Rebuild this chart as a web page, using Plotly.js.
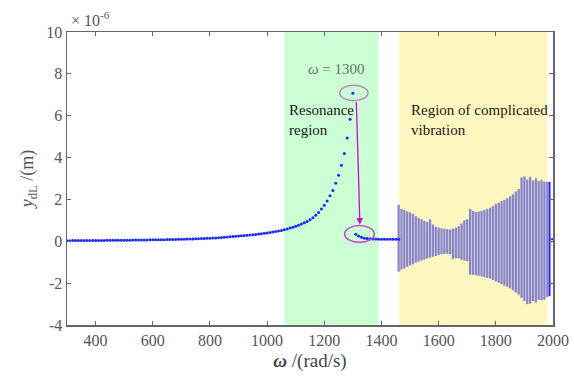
<!DOCTYPE html>
<html><head><meta charset="utf-8">
<script src="https://cdn.plot.ly/plotly-3.0.1.min.js"></script>
<style>html,body{margin:0;padding:0;background:#fff}#chart{width:574px;height:385px}</style>
</head><body><div id="chart"></div>
<script>
// Stable (pre-resonance + resonance) response, omega in rad/s, y in 1e-6 m
var omegaStable = [300,310,320,330,340,350,360,370,380,390,400,410,420,430,440,450,460,470,480,490,500,510,520,530,540,550,560,570,580,590,600,610,620,630,640,650,660,670,680,690,700,710,720,730,740,750,760,770,780,790,800,810,820,830,840,850,860,870,880,890,900,910,920,930,940,950,960,970,980,990,1000,1010,1020,1030,1040,1050,1060,1070,1080,1090,1100,1110,1120,1130,1140,1150,1160,1170,1180,1190,1200,1210,1220,1230,1240,1250,1260,1270,1280,1290,1300];
var yStable = [0.03,0.03,0.032,0.033,0.034,0.035,0.036,0.037,0.038,0.039,0.04,0.041,0.042,0.043,0.044,0.045,0.046,0.047,0.048,0.049,0.05,0.052,0.054,0.056,0.058,0.06,0.062,0.064,0.066,0.068,0.07,0.072,0.074,0.076,0.078,0.08,0.083,0.086,0.089,0.092,0.095,0.1,0.105,0.11,0.115,0.12,0.125,0.13,0.135,0.14,0.145,0.153,0.162,0.171,0.18,0.19,0.2,0.212,0.224,0.236,0.248,0.26,0.273,0.286,0.3,0.315,0.33,0.346,0.363,0.381,0.4,0.42,0.44,0.465,0.49,0.52,0.555,0.59,0.63,0.67,0.715,0.765,0.82,0.88,0.95,1.03,1.12,1.24,1.38,1.54,1.72,1.93,2.17,2.43,2.77,3.15,3.63,4.19,4.93,5.83,7.07];
// After the jump
var omegaAfter = [1310,1320,1330,1340,1350,1360,1370,1380,1390,1400,1410,1420,1430,1440,1450,1460];
var yAfter = [0.34,0.25,0.19,0.15,0.13,0.12,0.11,0.105,0.1,0.1,0.1,0.1,0.1,0.1,0.1,0.1];
// Region of complicated vibration: column envelopes
var omegaComplex = [1460,1470,1480,1490,1500,1510,1520,1530,1540,1550,1560,1570,1580,1590,1600,1610,1620,1630,1640,1650,1660,1670,1680,1690,1700,1710,1720,1730,1740,1750,1760,1770,1780,1790,1800,1810,1820,1830,1840,1850,1860,1870,1880,1890,1900,1910,1920,1930,1940,1950,1960,1970,1980];
var yUpper = [1.75,1.55,1.5,1.42,1.38,1.3,1.2,1.12,1.05,0.98,0.92,1.05,0.8,0.7,0.66,0.62,0.6,0.58,0.56,0.6,0.65,0.72,0.85,1.0,1.05,1.55,1.45,1.4,1.42,1.46,1.5,1.55,1.6,1.68,1.78,1.85,1.92,1.98,2.06,2.15,2.25,2.38,2.5,3.05,3.1,2.95,3.08,2.9,3.0,2.88,2.92,2.85,2.84];
var yLower = [-1.45,-1.35,-1.3,-1.22,-1.15,-1.1,-1.02,-0.97,-0.92,-0.88,-0.82,-0.78,-0.74,-0.7,-0.66,-0.62,-0.6,-0.6,-0.62,-0.85,-0.8,-0.82,-0.88,-0.92,-0.95,-1.6,-1.6,-1.62,-1.65,-1.68,-1.72,-1.75,-1.78,-1.85,-1.92,-1.98,-2.05,-2.12,-2.18,-2.25,-2.35,-2.45,-2.55,-2.7,-2.85,-3.0,-2.98,-2.85,-2.92,-2.8,-2.82,-2.78,-2.66];
// Blue end column and last point
var omegaEnd = [1988,1988];
var yEnd = [2.84,-2.62];
var omegaLast = [2000];
var yLast = [0.1];
// Tick labels
var xTicks = [400,600,800,1000,1200,1400,1600,1800,2000];
var yTicks = [-4,-2,0,2,4,6,8,10];
var yTickText = ['-4','-2','0','2','4','6','8','10'];

var cx = [], cy = [];
for (var i = 0; i < omegaComplex.length; i++) {
  cx.push(omegaComplex[i], omegaComplex[i], null);
  cy.push(yLower[i], yUpper[i], null);
}

var serif = '"Liberation Serif", "Times New Roman", serif';
var blue = 'rgb(25,40,255)';
var traces = [
  {x: cx, y: cy, mode: 'lines', line: {color: 'rgba(128,128,208,0.95)', width: 2.3}, hoverinfo: 'skip'},
  {x: omegaEnd, y: yEnd, mode: 'lines', line: {color: 'rgb(40,40,240)', width: 2}, hoverinfo: 'skip'},
  {x: omegaStable, y: yStable, mode: 'markers', marker: {color: blue, size: 3}},
  {x: omegaAfter, y: yAfter, mode: 'markers', marker: {color: blue, size: 3}},
  {x: omegaLast, y: yLast, mode: 'markers', marker: {color: blue, size: 3, symbol: 'line-ew-open', line:{color: blue, width: 2}}}
];

var layout = {
  width: 574, height: 385,
  margin: {l: 67, r: 21, t: 32, b: 60},
  paper_bgcolor: '#fff', plot_bgcolor: '#fff',
  showlegend: false,
  font: {family: serif, color: '#555', size: 16},
  xaxis: {
    range: [300, 2000], tickvals: xTicks,
    ticks: 'inside', ticklen: 4, tickcolor: '#666', showgrid: false, zeroline: false,
    showline: true, linecolor: '#666', linewidth: 1.5, mirror: 'ticks',
    tickfont: {family: serif, size: 16, color: '#555'},
    title: {text: '<b><i>ω</i></b> /(rad/s)', font: {family: serif, size: 19, color: '#444'}, standoff: 6}
  },
  yaxis: {
    range: [-4, 10], tickvals: yTicks, ticktext: yTickText,
    ticks: 'inside', ticklen: 4, tickcolor: '#666', showgrid: false, zeroline: false,
    showline: true, linecolor: '#666', linewidth: 1.5, mirror: 'ticks',
    tickfont: {family: serif, size: 16, color: '#555'},
    title: {text: '<i>y</i><sub>dL</sub> /(m)', font: {family: serif, size: 18, color: '#555'}, standoff: 8}
  },
  shapes: [
    {type: 'rect', xref: 'x', yref: 'paper', x0: 1060, x1: 1390, y0: 0, y1: 1, fillcolor: 'rgb(204,255,212)', line: {width: 0}, layer: 'below'},
    {type: 'rect', xref: 'x', yref: 'paper', x0: 1460, x1: 1980, y0: 0, y1: 1, fillcolor: 'rgb(255,246,192)', line: {width: 0}, layer: 'below'},
    {type: 'circle', xref: 'x', yref: 'y', x0: 1254, x1: 1353, y0: 6.72, y1: 7.45, line: {color: 'rgb(190,130,200)', width: 1.5}},
    {type: 'circle', xref: 'x', yref: 'y', x0: 1271, x1: 1375, y0: -0.05, y1: 0.75, line: {color: 'rgb(200,70,200)', width: 1.5}}
  ],
  annotations: [
    {xref: 'paper', yref: 'paper', x: 0.005, y: 1.005, xanchor: 'left', yanchor: 'bottom', showarrow: false,
     text: '× 10<sup>-6</sup>', font: {family: serif, size: 16, color: '#555'}},
    {xref: 'x', yref: 'y', x: 1243, y: 8.22, showarrow: false, text: '<i>ω</i> = 1300',
     font: {family: serif, size: 15, color: 'rgb(100,120,100)'}},
    {xref: 'x', yref: 'y', x: 1068, y: 5.78, xanchor: 'left', align: 'left', showarrow: false,
     text: 'Resonance<br>region', font: {family: serif, size: 15, color: '#1a1a1a'}},
    {xref: 'x', yref: 'y', x: 1495, y: 5.78, xanchor: 'left', align: 'left', showarrow: false,
     text: 'Region of complicated<br>vibration', font: {family: serif, size: 15, color: '#1a1a1a'}},
    {xref: 'x', yref: 'y', axref: 'x', ayref: 'y', x: 1324.5, y: 0.8, ax: 1312, ay: 6.72, text: '',
     showarrow: true, arrowhead: 2, arrowsize: 1, arrowwidth: 1.3, arrowcolor: 'rgb(215,0,215)'}
  ]
};
Plotly.newPlot('chart', traces, layout, {displayModeBar: false, staticPlot: true});
</script></body></html>
